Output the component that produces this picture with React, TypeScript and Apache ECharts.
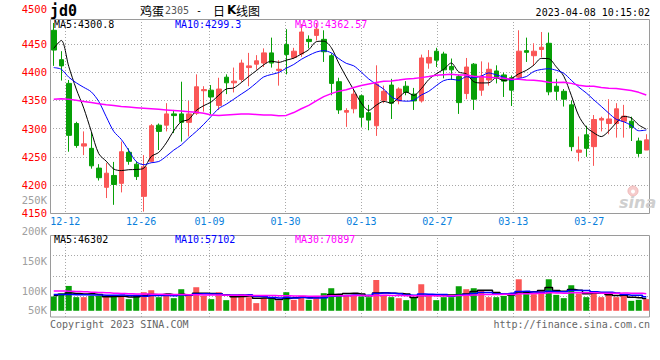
import React, { useEffect, useRef } from 'react';
import * as echarts from 'echarts';

const dates = [
  '12-08', '12-09', '12-12', '12-13', '12-14', '12-15', '12-16', '12-19', '12-20', '12-21',
  '12-22', '12-23', '12-26', '12-27', '12-28', '12-29', '12-30', '01-03', '01-04', '01-05',
  '01-06', '01-09', '01-10', '01-11', '01-12', '01-13', '01-16', '01-17', '01-18', '01-19',
  '01-20', '01-30', '01-31', '02-01', '02-02', '02-03', '02-06', '02-07', '02-08', '02-09',
  '02-10', '02-13', '02-14', '02-15', '02-16', '02-17', '02-20', '02-21', '02-22', '02-23',
  '02-24', '02-27', '02-28', '03-01', '03-02', '03-03', '03-06', '03-07', '03-08', '03-09',
  '03-10', '03-13', '03-14', '03-15', '03-16', '03-17', '03-20', '03-21', '03-22', '03-23',
  '03-24', '03-27', '03-28', '03-29', '03-30', '03-31', '04-03', '04-04', '04-06', '04-07',
];

const opens = [
  4474, 4422, 4380, 4309, 4269, 4265, 4230, 4196, 4217, 4203,
  4258, 4237, 4180, 4242, 4306, 4306, 4326, 4326, 4311, 4327,
  4367, 4368, 4341, 4391, 4381, 4387, 4408, 4414, 4416, 4434,
  4403, 4449, 4426, 4432, 4458, 4465, 4458, 4429, 4383, 4329,
  4335, 4358, 4328, 4305, 4350, 4377, 4349, 4375, 4361, 4349,
  4416, 4437, 4432, 4410, 4392, 4362, 4414, 4368, 4386, 4402,
  4395, 4390, 4391, 4438, 4429, 4440, 4451, 4375, 4366, 4342,
  4258, 4289, 4268, 4315, 4309, 4309, 4313, 4313, 4278, 4262,
];
const closes = [
  4439, 4411, 4288, 4270, 4273, 4234, 4213, 4221, 4201, 4259,
  4242, 4215, 4232, 4305, 4295, 4326, 4323, 4311, 4326, 4374,
  4369, 4356, 4370, 4381, 4384, 4416, 4411, 4420, 4434, 4416,
  4405, 4431, 4437, 4471, 4454, 4476, 4436, 4380, 4333, 4332,
  4361, 4320, 4315, 4379, 4366, 4345, 4370, 4364, 4349, 4425,
  4426, 4421, 4404, 4404, 4346, 4409, 4352, 4393, 4405, 4391,
  4384, 4368, 4437, 4435, 4437, 4444, 4365, 4366, 4352, 4268,
  4262, 4265, 4316, 4318, 4317, 4335, 4322, 4302, 4256, 4280,
];
const highs = [
  4487, 4437, 4386, 4312, 4295, 4294, 4237, 4239, 4241, 4277,
  4265, 4242, 4253, 4308, 4309, 4345, 4333, 4383, 4349, 4396,
  4375, 4377, 4390, 4396, 4408, 4422, 4434, 4430, 4442, 4461,
  4421, 4476, 4443, 4485, 4465, 4487, 4474, 4433, 4390, 4336,
  4370, 4360, 4342, 4412, 4376, 4388, 4373, 4384, 4372, 4431,
  4439, 4443, 4436, 4424, 4395, 4425, 4416, 4419, 4417, 4412,
  4399, 4394, 4474, 4461, 4451, 4471, 4470, 4388, 4370, 4350,
  4286, 4305, 4324, 4321, 4352, 4345, 4342, 4321, 4284, 4290,
];
const lows = [
  4411, 4385, 4259, 4266, 4253, 4229, 4208, 4177, 4165, 4187,
  4236, 4209, 4153, 4240, 4262, 4295, 4292, 4277, 4286, 4324,
  4330, 4325, 4333, 4361, 4364, 4383, 4375, 4404, 4409, 4408,
  4376, 4396, 4423, 4427, 4442, 4456, 4418, 4359, 4326, 4303,
  4327, 4303, 4297, 4287, 4345, 4317, 4343, 4359, 4333, 4346,
  4406, 4409, 4389, 4386, 4326, 4352, 4333, 4358, 4376, 4380,
  4356, 4340, 4388, 4418, 4411, 4426, 4359, 4350, 4339, 4260,
  4242, 4250, 4234, 4295, 4290, 4284, 4284, 4278, 4250, 4262,
];
const volumes = [
  57600, 70800, 100000, 54800, 54800, 60000, 60000, 54800, 60000, 57600,
  46800, 64000, 74800, 82800, 54800, 60000, 50800, 86800, 60000, 94800,
  60000, 46800, 74800, 42800, 56000, 66800, 54800, 30800, 50800, 50800,
  41600, 74800, 44000, 60000, 44000, 60000, 70800, 90800, 66800, 60000,
  64000, 57600, 54800, 124000, 64000, 54800, 50800, 42800, 54800, 106800,
  60000, 42800, 54800, 54800, 98800, 86800, 90800, 82800, 54800, 54800,
  60000, 64000, 126800, 66800, 66800, 82800, 126800, 64000, 50800, 102800,
  69600, 54800, 77600, 54800, 64000, 54800, 60000, 40000, 44000, 46800,
];

// moving-average values before enough bars are visible
const ma5Lead = [4442, 4456, 4410, 4370];
const ma10Lead = [4408, 4405, 4391, 4381, 4373, 4365, 4348, 4321, 4295];
const ma30Lead = [
  4352, 4353, 4352, 4350, 4348, 4346, 4344, 4342, 4341, 4339,
  4338, 4337, 4336, 4335, 4334, 4333, 4332, 4331, 4330, 4329,
  4327, 4324, 4323, 4324, 4325, 4326, 4326, 4325, 4324,
];
const volMa5Lead = [62000, 66000, 72000, 70000];
const volMa10Lead = [66000, 66000, 66000, 65000, 65000, 64000, 64000, 63000, 63000];
const volMa30Lead = [
  80000, 80000, 79000, 78000, 77000, 75000, 74000, 73000, 71000, 70000,
  69000, 68000, 68000, 67000, 67000, 66000, 66000, 66000, 65000, 65000,
  64000, 64000, 64000, 63000, 63000, 63000, 62000, 62000, 62000,
];

const xTickLabels = ['12-12', '12-26', '01-09', '01-30', '02-13', '02-27', '03-13', '03-27'];
const priceTopLabel = '4500';
const volTickLabels = ['250K', '200K', '150K', '100K', '50K'];
const priceLegend = ['MA5:4300.8', 'MA10:4299.3', 'MA30:4362.57'];
const volLegend = ['MA5:46302', 'MA10:57102', 'MA30:70897'];

const UP = '#fa5656';
const DOWN = '#07a007';
const MONO = '"DejaVu Sans Mono", monospace';

function movingAverage(values: number[], n: number, lead: number[]): number[] {
  return values.map((_, i) => {
    if (i < n - 1) return lead[i];
    let s = 0;
    for (let k = i - n + 1; k <= i; k++) s += values[k];
    return Math.round((s / n) * 100) / 100;
  });
}

function txt(text: string, x: number, y: number, fill: string, font: string, align = 'left') {
  return {
    type: 'text',
    x,
    y,
    z: 60,
    silent: true,
    style: {
      text,
      fill,
      font,
      align,
      textAlign: align,
      verticalAlign: 'middle',
      textVerticalAlign: 'middle',
    },
  };
}

export default function App() {
  const ref = useRef<HTMLDivElement>(null);

  useEffect(() => {
    const chart = echarts.init(ref.current!, null, { renderer: 'svg' });
    const candle = dates.map((_, i) => [opens[i], closes[i], lows[i], highs[i]]);
    const volData = volumes.map((v, i) => ({
      value: v,
      itemStyle: { color: closes[i] >= opens[i] ? UP : DOWN },
    }));
    const ma5 = movingAverage(closes, 5, ma5Lead);
    const ma10 = movingAverage(closes, 10, ma10Lead);
    const ma30 = movingAverage(closes, 30, ma30Lead);
    const vma5 = movingAverage(volumes, 5, volMa5Lead);
    const vma10 = movingAverage(volumes, 10, volMa10Lead);
    const vma30 = movingAverage(volumes, 30, volMa30Lead);

    const showTick = (_idx: number, val: string) => xTickLabels.includes(val);
    const dotted = { show: true, lineStyle: { color: '#a8a8a8', type: [1, 2], width: 1 } };

    const graphic: any[] = [
      {
        type: 'rect', z: 55, silent: true,
        shape: { x: 50.5, y: 19.5, width: 599, height: 194 },
        style: { fill: 'none', stroke: '#9a9a9a', lineWidth: 1 },
      },
      {
        type: 'rect', z: 55, silent: true,
        shape: { x: 50.5, y: 235.5, width: 599, height: 81.5 },
        style: { fill: 'none', stroke: '#9a9a9a', lineWidth: 1 },
      },
      txt('jd0', 50, 10.5, '#000', `bold 15px ${MONO}`),
      txt('鸡蛋', 140, 10, '#000', '12px "Noto Sans CJK SC"'),
      txt('2305', 165, 10.5, '#555', `10px ${MONO}`),
      txt('-', 196, 10, '#000', `10px ${MONO}`),
      txt('日', 213, 10, '#000', '12px "Noto Sans CJK SC"'),
      txt('K', 227, 10, '#000', 'bold 12px "DejaVu Sans"'),
      txt('线图', 236, 10, '#000', '12px "Noto Sans CJK SC"'),
      txt('2023-04-08 10:15:02', 650, 12, '#000', `10px ${MONO}`, 'right'),
      txt(priceTopLabel, 47, 8.5, '#ff0000', `10.5px ${MONO}`, 'right'),
      txt(priceLegend[0], 54, 24, '#000', `10px ${MONO}`),
      txt(priceLegend[1], 175, 24, '#0000ff', `10px ${MONO}`),
      txt(priceLegend[2], 295, 24, '#ff00ff', `10px ${MONO}`),
      txt(volLegend[0], 54, 239, '#000', `10px ${MONO}`),
      txt(volLegend[1], 175, 239, '#0000ff', `10px ${MONO}`),
      txt(volLegend[2], 295, 239, '#ff00ff', `10px ${MONO}`),
      txt('Copyright 2023 SINA.COM', 50, 324, '#666', `10px ${MONO}`),
      txt('http://finance.sina.com.cn', 650, 324, '#666', `10px ${MONO}`, 'right'),
      {
        type: 'circle', z: 5, silent: true,
        shape: { cx: 633, cy: 191, r: 5 },
        style: { fill: '#f6cccc', stroke: '#f0b8b8', lineWidth: 1 },
      },
      {
        type: 'circle', z: 5, silent: true,
        shape: { cx: 633, cy: 191.5, r: 2 },
        style: { fill: '#fff' },
      },
      txt('sina', 619, 202, '#cfcfcf', 'italic bold 16px "DejaVu Sans"'),
    ];
    const volLabelY = [200, 231, 261, 291, 310];
    volTickLabels.forEach((t, i) => {
      graphic.push(txt(t, 47, volLabelY[i], '#a0a0a0', `10.5px ${MONO}`, 'right'));
    });

    const option: any = {
      animation: false,
      backgroundColor: '#fff',
      grid: [
        { left: 50, top: 19, width: 600, height: 194.3 },
        { left: 50, top: 235, width: 600, height: 82 },
      ],
      xAxis: [
        { type: 'category', gridIndex: 0, data: dates, boundaryGap: true, show: false },
        {
          type: 'category', gridIndex: 0, data: dates, boundaryGap: false, position: 'bottom',
          axisLine: { show: false }, axisTick: { show: false },
          axisLabel: { interval: showTick, color: '#0a7fdc', fontFamily: MONO, fontSize: 10, margin: 3 },
          splitLine: { ...dotted, interval: showTick },
        },
        { type: 'category', gridIndex: 1, data: dates, boundaryGap: true, show: false },
        {
          type: 'category', gridIndex: 1, data: dates, boundaryGap: false,
          axisLine: { show: false }, axisTick: { show: false }, axisLabel: { show: false },
          splitLine: { ...dotted, interval: showTick },
        },
      ],
      yAxis: [
        {
          type: 'value', gridIndex: 0, min: 4150, max: 4494, interval: 50,
          axisLine: { show: false }, axisTick: { show: false },
          axisLabel: {
            color: '#ff0000', fontFamily: MONO, fontSize: 10.5, margin: 3,
            formatter: (v: number) => (v % 50 === 0 ? String(v) : ''),
          },
          splitLine: { ...dotted, showMinLine: false, showMaxLine: false },
        },
        { type: 'value', gridIndex: 1, min: -25000, max: 305000, show: false },
        {
          type: 'value', gridIndex: 1, min: 0, max: 4, interval: 1,
          axisLine: { show: false }, axisTick: { show: false }, axisLabel: { show: false },
          splitLine: { ...dotted, showMinLine: false, showMaxLine: false },
        },
      ],
      series: [
        {
          type: 'candlestick', xAxisIndex: 0, yAxisIndex: 0, data: candle, barWidth: 5,
          itemStyle: { color: UP, color0: DOWN, borderColor: UP, borderColor0: DOWN, borderWidth: 1 },
        },
        {
          type: 'line', xAxisIndex: 0, yAxisIndex: 0, data: ma5, symbol: 'none', smooth: 0.3,
          lineStyle: { color: '#000', width: 1 }, z: 3,
        },
        {
          type: 'line', xAxisIndex: 0, yAxisIndex: 0, data: ma10, symbol: 'none', smooth: 0.3,
          lineStyle: { color: '#0000ff', width: 1 }, z: 3,
        },
        {
          type: 'line', xAxisIndex: 0, yAxisIndex: 0, data: ma30, symbol: 'none',
          lineStyle: { color: '#ff00ff', width: 1.5 }, z: 3,
        },
        { type: 'bar', xAxisIndex: 2, yAxisIndex: 1, data: volData, barWidth: 6 },
        {
          type: 'line', xAxisIndex: 2, yAxisIndex: 1, data: vma5, symbol: 'none', step: 'middle',
          lineStyle: { color: '#000', width: 1.5 }, z: 3,
        },
        {
          type: 'line', xAxisIndex: 2, yAxisIndex: 1, data: vma10, symbol: 'none', step: 'middle',
          lineStyle: { color: '#0000ff', width: 1.5 }, z: 3,
        },
        {
          type: 'line', xAxisIndex: 2, yAxisIndex: 1, data: vma30, symbol: 'none', step: 'middle',
          lineStyle: { color: '#ff00ff', width: 1.5 }, z: 3,
        },
      ],
      graphic,
    };
    chart.setOption(option);
    return () => chart.dispose();
  }, []);

  return (
    <div
      ref={ref}
      style={{ position: 'fixed', left: 0, top: 0, width: 660, height: 360, background: '#fff' }}
    />
  );
}
